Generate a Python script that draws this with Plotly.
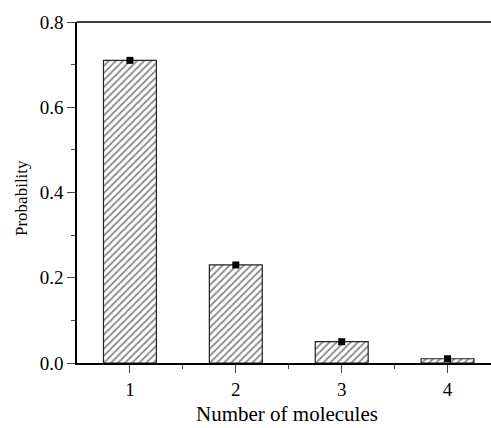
import plotly.graph_objects as go

molecules = [1, 2, 3, 4]
probability = [0.71, 0.23, 0.05, 0.01]

fig = go.Figure()
fig.add_trace(go.Bar(
    x=molecules, y=probability, width=0.5,
    marker=dict(color="white", line=dict(color="#222", width=1.2),
                pattern=dict(shape="/", size=5, solidity=0.35, fgcolor="#111", bgcolor="white")),
    showlegend=False,
))
fig.add_trace(go.Scatter(
    x=molecules, y=probability, mode="markers",
    marker=dict(symbol="square", size=7, color="black"),
    showlegend=False, cliponaxis=False,
))
font = dict(family="Liberation Serif, Times New Roman, serif", color="black")
fig.add_shape(type="line", xref="paper", yref="paper", x0=0, x1=1, y0=1, y1=1,
              line=dict(color="black", width=1.5))
W, H, L, T, B = 491, 428, 77, 22, 65
fig.add_annotation(text="Number of molecules", xref="paper", yref="paper",
                   x=(287 - L) / (W - L), y=-(414 - (H - B)) / (H - B - T),
                   showarrow=False, xanchor="center", yanchor="middle", font=dict(size=21))
fig.add_annotation(text="Probability", xref="paper", yref="paper",
                   x=-(L - 21) / (W - L), y=((H - B) - 198) / (H - B - T), textangle=-90,
                   showarrow=False, xanchor="center", yanchor="middle", font=dict(size=17))
fig.update_layout(
    width=W, height=H,
    margin=dict(l=L, r=0, t=T, b=B),
    paper_bgcolor="white", plot_bgcolor="white",
    font=dict(size=19, **font),
    xaxis=dict(range=[0.5, 4.41], tickvals=molecules, ticks="outside", ticklen=8, tickwidth=1.2,
               showline=True, linecolor="black", linewidth=1.8, showgrid=False,
               zeroline=False, tickfont=dict(size=19), automargin=False,
               minor=dict(tickvals=[1.5, 2.5, 3.5], ticks="outside", ticklen=4, tickwidth=1.2)),
    yaxis=dict(range=[0, 0.8], tickvals=[0, 0.2, 0.4, 0.6, 0.8], tickformat=".1f",
               ticks="outside", ticklen=8, tickwidth=1.2, showline=True, linecolor="black",
               linewidth=1.5, showgrid=False, zeroline=False, tickfont=dict(size=19),
               automargin=False,
               minor=dict(tickvals=[0.1, 0.3, 0.5, 0.7], ticks="outside", ticklen=4, tickwidth=1.2)),
)
fig.write_html("out.html")
